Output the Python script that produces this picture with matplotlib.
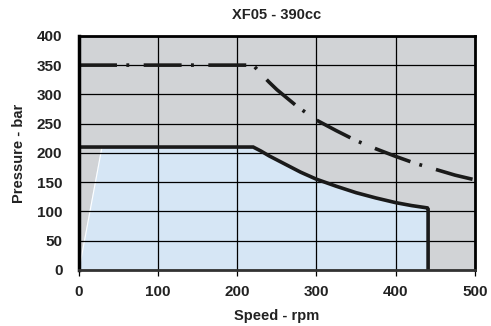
import matplotlib
matplotlib.use("Agg")
import matplotlib.pyplot as plt

plt.rcParams['font.family'] = ['Liberation Sans', 'DejaVu Sans']
plt.rcParams['font.weight'] = 'bold'

# solid curve (continuous pressure)
cont_rpm = [0, 220, 230, 240, 250, 260, 280, 300, 325, 350, 375, 400, 420, 440, 441, 441]
cont_bar = [210, 210, 203, 195, 188, 181, 167, 155, 143, 132, 123, 115, 110, 106, 104, 0]

# dash-dot curve (peak pressure)
peak_rpm = [0, 220, 230, 240, 250, 275, 300, 325, 350, 375, 400, 425, 450, 475, 500]
peak_bar = [350, 350, 335, 321, 308, 280, 256, 238, 221, 207, 194, 182, 172, 162, 154]

# left edge of the blue area
edge_rpm = [0, 29]
edge_bar = [0, 210]

fig = plt.figure(figsize=(4.91, 3.26), dpi=100)
ax = fig.add_axes([0.161, 0.172, 0.806, 0.718])
ax.set_facecolor('#d1d3d6')

poly_x = edge_rpm + cont_rpm[1:]
poly_y = edge_bar + cont_bar[1:]
ax.fill(poly_x, poly_y, color='#d6e6f5', zorder=1)
ax.plot(edge_rpm, edge_bar, color='white', lw=0.8, zorder=1.5)

ax.grid(True, color='black', lw=0.9, zorder=2)
ax.set_axisbelow(False)

ax.plot(cont_rpm, cont_bar, color='#1a1a1a', lw=2.6, zorder=3, solid_joinstyle='miter')
ax.plot(peak_rpm, peak_bar, color='#1a1a1a', lw=2.6, zorder=3,
        linestyle=(0, (10.5, 2.6, 0.8, 4.0)))

ax.set_xlim(0, 500)
ax.set_ylim(0, 400)
ax.set_xticks([0, 100, 200, 300, 400, 500])
ax.set_yticks([0, 50, 100, 150, 200, 250, 300, 350, 400])
ax.tick_params(axis='x', labelsize=11, length=4, width=0.9, pad=7)
ax.tick_params(axis='y', labelsize=11, length=0, pad=12)
for lab in ax.get_xticklabels() + ax.get_yticklabels():
    lab.set_fontweight('bold')
    lab.set_color('#222222')

ax.spines['left'].set_linewidth(2.5)
ax.spines['top'].set_linewidth(2.0)
ax.spines['right'].set_linewidth(2.0)
ax.spines['bottom'].set_linewidth(2.0)
ax.spines['bottom'].set_color('#333333')
for s in ax.spines.values():
    s.set_zorder(4)

ax.set_title('XF05 - 390cc', fontsize=10.5, fontweight='bold', pad=12, color='#222222')
ax.set_xlabel('Speed - rpm', fontsize=10.5, fontweight='bold', color='#222222', labelpad=7)
ax.set_ylabel('Pressure - bar', fontsize=10.5, fontweight='bold', color='#222222', labelpad=8)

fig.savefig('out.png', dpi=100)
